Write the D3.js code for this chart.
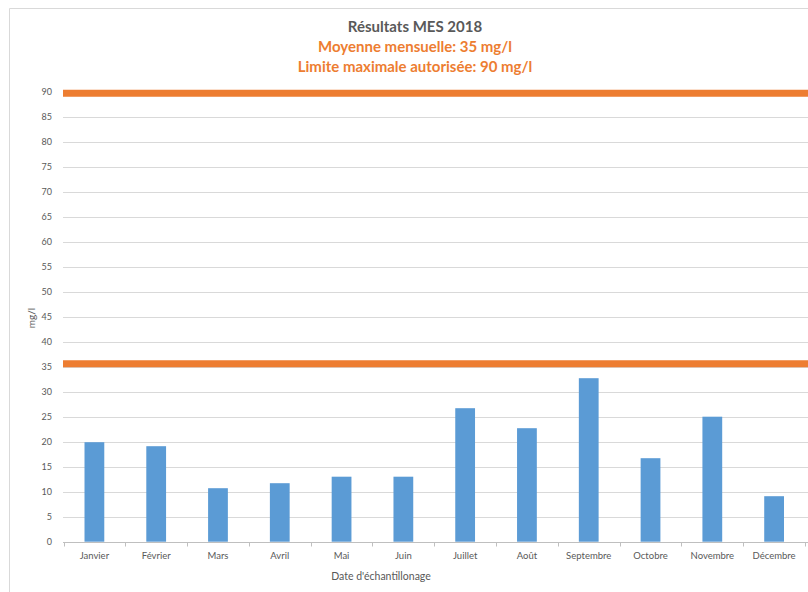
<!DOCTYPE html>
<meta charset='utf-8'>
<head>
    <title>Résultats MES 2018</title>
    <script src='https://cdn.jsdelivr.net/npm/d3@7/dist/d3.min.js'></script>
</head>

<style>
    body { margin: 0; background: #fff; }
    text { font-family: Lato, 'Open Sans', sans-serif; fill: #595959; }
    .grid line { stroke: #d9d9d9; stroke-width: 1px; }
    .bar { fill: #5b9bd5; }
    .limit { stroke: #ed7d31; stroke-width: 7px; }
</style>

<svg></svg>

<script>
    var vWidth = 808;
    var vHeight = 592;

    // data
    var months = ['Janvier', 'Février', 'Mars', 'Avril', 'Mai', 'Juin', 'Juillet',
        'Août', 'Septembre', 'Octobre', 'Novembre', 'Décembre'];
    var mesValues = [19.9, 19.1, 10.7, 11.7, 13.0, 13.0, 26.7, 22.7, 32.7, 16.7, 25.0, 9.1];
    var limitLines = [89.7, 35.6];
    var yTicks = [0, 5, 10, 15, 20, 25, 30, 35, 40, 45, 50, 55, 60, 65, 70, 75, 80, 85, 90];
    var titleLines = ['Résultats MES 2018', 'Moyenne mensuelle: 35 mg/l', 'Limite maximale autorisée: 90 mg/l'];

    var svg = d3.select('svg').attr('width', vWidth).attr('height', vHeight);

    // chart border (cut by the picture edge)
    svg.append('path')
        .attr('d', 'M9.5,' + vHeight + 'V8.5H' + vWidth)
        .attr('fill', 'none').attr('stroke', '#d9d9d9');

    var x = d3.scaleBand().domain(months).range([63.5, 805]).paddingInner(0.68).paddingOuter(0.34);
    var xb = d3.scaleBand().domain(months).range([63.5, 805]);
    var y = d3.scaleLinear().domain([0, 90]).range([541.7, 91.7]);

    // grid
    svg.append('g').attr('class', 'grid')
        .selectAll('line').data(yTicks.slice(1)).enter().append('line')
        .attr('x1', 63).attr('x2', vWidth)
        .attr('y1', function (d) { return Math.round(y(d)) + 0.5; })
        .attr('y2', function (d) { return Math.round(y(d)) + 0.5; });

    // y labels
    svg.append('g').selectAll('text').data(yTicks).enter().append('text')
        .attr('x', 52).attr('y', function (d) { return y(d) + 3; })
        .attr('text-anchor', 'end').attr('font-size', 9)
        .text(function (d) { return d; });

    // bars
    svg.append('g').selectAll('rect').data(mesValues).enter().append('rect')
        .attr('class', 'bar')
        .attr('x', function (d, i) { return x(months[i]); })
        .attr('width', x.bandwidth())
        .attr('y', function (d) { return y(d); })
        .attr('height', function (d) { return y(0) - y(d); });

    // x axis
    var xAxis = d3.axisBottom(xb).tickSize(0).tickFormat('');
    var gx = svg.append('g').attr('transform', 'translate(0,' + (Math.round(y(0)) + 0.5) + ')').call(xAxis);
    gx.select('.domain').attr('stroke', '#bfbfbf').attr('d', 'M63,0H' + vWidth);
    gx.selectAll('.sep').data(d3.range(months.length + 1)).enter().append('line')
        .attr('x1', function (i) { return Math.round(63.5 + i * xb.step()) + 0.5; })
        .attr('x2', function (i) { return Math.round(63.5 + i * xb.step()) + 0.5; })
        .attr('y1', 0).attr('y2', 4).attr('stroke', '#bfbfbf');

    svg.append('g').selectAll('text').data(months).enter().append('text')
        .attr('x', function (d) { return xb(d) + xb.bandwidth() / 2; })
        .attr('y', 559).attr('text-anchor', 'middle').attr('font-size', 9.5)
        .text(function (d) { return d; });

    // limit lines
    svg.append('g').selectAll('line').data(limitLines).enter().append('line')
        .attr('class', 'limit')
        .attr('x1', 63).attr('x2', vWidth)
        .attr('y1', function (d) { return y(d); })
        .attr('y2', function (d) { return y(d); });

    // axis titles
    svg.append('text').attr('x', 381).attr('y', 580).attr('text-anchor', 'middle')
        .attr('font-size', 10.5).text("Date d'échantillonage");
    svg.append('text').attr('transform', 'translate(35,318) rotate(-90)')
        .attr('text-anchor', 'middle').attr('font-size', 10).text('mg/l');

    // titles
    svg.append('g').selectAll('text').data(titleLines).enter().append('text')
        .attr('x', 415).attr('y', function (d, i) { return 32 + i * 20; })
        .attr('text-anchor', 'middle').attr('font-size', 15).attr('font-weight', 'bold')
        .style('fill', function (d, i) { return i === 0 ? '#595959' : '#ed7d31'; })
        .text(function (d) { return d; });
</script>
